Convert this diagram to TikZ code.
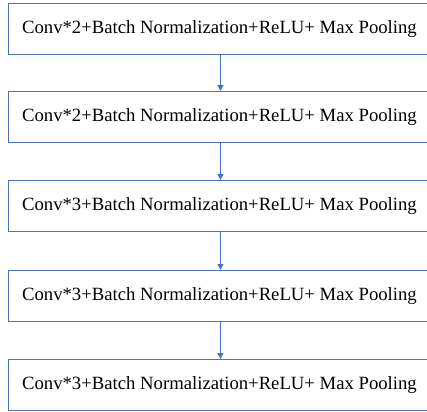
\documentclass[tikz,border=0pt]{standalone}
\usepackage{fontspec}
\setmainfont{Liberation Serif}
\usetikzlibrary{arrows.meta}
\definecolor{boxc}{HTML}{4F72B0}
\definecolor{arrc}{HTML}{4472C4}
\begin{document}
\begin{tikzpicture}[x=1pt,y=-1pt,
  layer/.style={draw=boxc, line width=0.9pt, fill=white, minimum width=422pt, minimum height=51pt, inner sep=0pt, anchor=north west, font=\fontsize{18.7}{21}\selectfont},
  flow/.style={draw=arrc, line width=0.9pt, -{Triangle[length=6pt,width=6pt]}}]
\useasboundingbox (0,0) rectangle (427,411);
\node[layer] (b1) at (8,3) {Conv*2+Batch Normalization+ReLU+ Max Pooling};
\node[layer] (b2) at (8,91) {Conv*2+Batch Normalization+ReLU+ Max Pooling};
\node[layer] (b3) at (8,180) {Conv*3+Batch Normalization+ReLU+ Max Pooling};
\node[layer] (b4) at (8,270) {Conv*3+Batch Normalization+ReLU+ Max Pooling};
\node[layer] (b5) at (8,359) {Conv*3+Batch Normalization+ReLU+ Max Pooling};
\foreach \a/\b in {b1/b2,b2/b3,b3/b4,b4/b5}{
  \draw[flow] ([xshift=1pt]\a.south) -- ([xshift=1pt]\b.north);
}
\end{tikzpicture}
\end{document}
